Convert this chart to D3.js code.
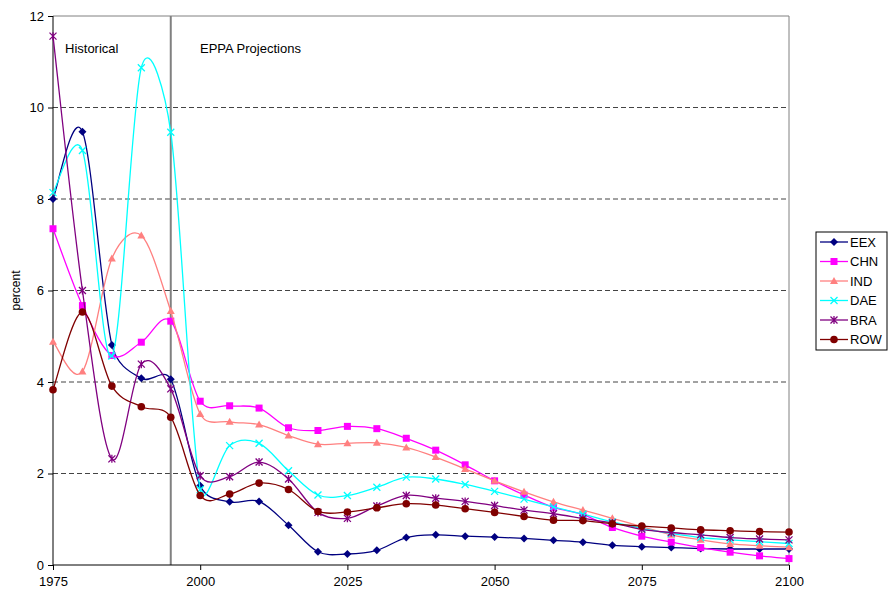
<!DOCTYPE html>
<html>
<head>
<meta charset="utf-8">
<script src="https://cdn.jsdelivr.net/npm/d3@7"></script>
<style>
  body { margin: 0; background: #fff; }
  svg { font-family: "Liberation Sans", Arial, sans-serif; }
</style>
</head>
<body>
<div class="chart"></div>
<script>
// data
var years = d3.range(1975, 2101, 5);
var seriesNames = ['EEX', 'CHN', 'IND', 'DAE', 'BRA', 'ROW'];
var eex = [8.0, 9.47, 4.81, 4.08, 4.06, 1.73, 1.38, 1.39, 0.87, 0.29, 0.24, 0.32, 0.60, 0.66, 0.63, 0.61, 0.58, 0.54, 0.50, 0.43, 0.40, 0.38, 0.36, 0.35, 0.35, 0.35];
var chn = [7.35, 5.67, 4.58, 4.87, 5.33, 3.58, 3.48, 3.43, 3.0, 2.94, 3.03, 2.98, 2.77, 2.51, 2.19, 1.84, 1.53, 1.26, 1.10, 0.82, 0.63, 0.50, 0.38, 0.28, 0.20, 0.14];
var ind = [4.88, 4.23, 6.70, 7.20, 5.55, 3.30, 3.13, 3.07, 2.83, 2.64, 2.66, 2.67, 2.57, 2.36, 2.10, 1.84, 1.60, 1.38, 1.20, 1.02, 0.84, 0.66, 0.55, 0.46, 0.42, 0.39];
var dae = [8.14, 9.06, 4.57, 10.87, 9.46, 1.65, 2.61, 2.66, 2.06, 1.53, 1.52, 1.70, 1.92, 1.88, 1.76, 1.61, 1.44, 1.27, 1.11, 0.94, 0.80, 0.69, 0.60, 0.55, 0.51, 0.47];
var bra = [11.56, 6.0, 2.32, 4.39, 3.85, 1.95, 1.93, 2.25, 1.88, 1.15, 1.02, 1.29, 1.52, 1.46, 1.39, 1.30, 1.20, 1.12, 1.02, 0.92, 0.78, 0.71, 0.66, 0.60, 0.57, 0.55];
var row = [3.83, 5.53, 3.91, 3.46, 3.23, 1.52, 1.55, 1.79, 1.65, 1.17, 1.16, 1.25, 1.34, 1.31, 1.23, 1.15, 1.06, 0.98, 0.97, 0.90, 0.85, 0.81, 0.77, 0.75, 0.73, 0.72];
var xTicks = [1975, 2000, 2025, 2050, 2075, 2100];
var yTicks = [0, 2, 4, 6, 8, 10, 12];
var dividerYear = 1995;

var seriesValues = [eex, chn, ind, dae, bra, row];
var seriesColors = ['#000080', '#ff00ff', '#ff8080', '#00ffff', '#800080', '#800000'];
var seriesShapes = ['diamond', 'square', 'triangle', 'cross', 'star', 'circle'];

// ======================================
// svg size and plot box
// ======================================
var chart = { width: 889, height: 595 };
var plot = { left: 53, right: 789, top: 16, bottom: 565 };

var svg = d3.select('.chart')
   .append('svg')
   .attr('width', chart.width)
   .attr('height', chart.height);

var x = d3.scaleLinear().domain([1975, 2100]).range([plot.left, plot.right]);
var y = d3.scaleLinear().domain([0, 12]).range([plot.bottom, plot.top]);

// gridlines
svg.append('g')
   .selectAll('line')
   .data(yTicks.filter(function(d){ return d > 0 && d < 12; }))
   .enter()
   .append('line')
      .attr('x1', plot.left)
      .attr('x2', plot.right)
      .attr('y1', function(d){ return y(d); })
      .attr('y2', function(d){ return y(d); })
      .attr('stroke', '#444')
      .attr('stroke-width', 1)
      .attr('stroke-dasharray', '5,3');

// top and right border
svg.append('path')
   .attr('d', 'M' + plot.left + ',' + y(12) + 'H' + plot.right + 'V' + plot.bottom)
   .attr('fill', 'none')
   .attr('stroke', '#808080')
   .attr('stroke-width', 1);

// 1995 divider
svg.append('line')
   .attr('x1', x(dividerYear)).attr('x2', x(dividerYear))
   .attr('y1', y(12)).attr('y2', plot.bottom)
   .attr('stroke', '#808080')
   .attr('stroke-width', 2);

svg.append('text')
   .attr('x', 65).attr('y', 53)
   .attr('font-size', '13px')
   .text('Historical');
svg.append('text')
   .attr('x', 200).attr('y', 53)
   .attr('font-size', '13px')
   .text('EPPA Projections');

// axes
var xAxis = svg.append('g')
   .attr('transform', 'translate(0,' + plot.bottom + ')')
   .call(d3.axisBottom(x).tickValues(xTicks).tickFormat(d3.format('d')).tickSize(5).tickPadding(4));
var yAxis = svg.append('g')
   .attr('transform', 'translate(' + plot.left + ',0)')
   .call(d3.axisLeft(y).tickValues(yTicks).tickSize(5).tickPadding(4));
[xAxis, yAxis].forEach(function(a){
   a.selectAll('text').attr('font-size', '13px').attr('font-family', '"Liberation Sans", Arial, sans-serif').attr('fill', '#000');
   a.selectAll('line, path').attr('stroke', '#000');
});
xAxis.selectAll('text').attr('dy', '0.9em');
yAxis.select('.domain').attr('d', 'M0,' + plot.top + 'V' + plot.bottom);
xAxis.select('.domain').attr('d', 'M' + plot.left + ',0H' + plot.right);

svg.append('text')
   .attr('transform', 'translate(20,' + ((plot.top + plot.bottom) / 2) + ') rotate(-90)')
   .attr('text-anchor', 'middle')
   .attr('font-size', '12px')
   .text('percent');

// ======================================
// markers
// ======================================
function drawMarker(g, shape, color, cx, cy) {
   if (shape === 'diamond') {
      g.append('path').attr('d', 'M' + cx + ',' + (cy - 4) + 'L' + (cx + 4) + ',' + cy + 'L' + cx + ',' + (cy + 4) + 'L' + (cx - 4) + ',' + cy + 'Z').attr('fill', color);
   } else if (shape === 'square') {
      g.append('rect').attr('x', cx - 3.5).attr('y', cy - 3.5).attr('width', 7).attr('height', 7).attr('fill', color);
   } else if (shape === 'triangle') {
      g.append('path').attr('d', 'M' + cx + ',' + (cy - 4) + 'L' + (cx + 4) + ',' + (cy + 3) + 'L' + (cx - 4) + ',' + (cy + 3) + 'Z').attr('fill', color);
   } else if (shape === 'circle') {
      g.append('circle').attr('cx', cx).attr('cy', cy).attr('r', 3.8).attr('fill', color);
   } else if (shape === 'cross') {
      g.append('path').attr('d', 'M' + (cx - 3.5) + ',' + (cy - 3.5) + 'L' + (cx + 3.5) + ',' + (cy + 3.5) + 'M' + (cx + 3.5) + ',' + (cy - 3.5) + 'L' + (cx - 3.5) + ',' + (cy + 3.5))
         .attr('stroke', color).attr('stroke-width', 1.3).attr('fill', 'none');
   } else if (shape === 'star') {
      g.append('path').attr('d', 'M' + (cx - 3.5) + ',' + (cy - 3.5) + 'L' + (cx + 3.5) + ',' + (cy + 3.5) + 'M' + (cx + 3.5) + ',' + (cy - 3.5) + 'L' + (cx - 3.5) + ',' + (cy + 3.5) + 'M' + cx + ',' + (cy - 4) + 'L' + cx + ',' + (cy + 4))
         .attr('stroke', color).attr('stroke-width', 1.3).attr('fill', 'none');
   }
}

// ======================================
// spreadsheet-style smoothing: bezier segments whose handles
// are shortened when the neighbouring chords are long
// ======================================
function curveSmoothSheet(context) {
   var pts;
   function dist(a, b){ return Math.hypot(b[0] - a[0], b[1] - a[1]); }
   return {
      areaStart: function(){}, areaEnd: function(){},
      lineStart: function(){ pts = []; },
      point: function(px, py){ pts.push([+px, +py]); },
      lineEnd: function(){
         var n = pts.length;
         if (!n) return;
         context.moveTo(pts[0][0], pts[0][1]);
         for (var i = 0; i < n - 1; i++) {
            var p0 = pts[Math.max(i - 1, 0)], p1 = pts[i], p2 = pts[i + 1], p3 = pts[Math.min(i + 2, n - 1)];
            var d12 = dist(p1, p2), d02 = dist(p0, p2), d13 = dist(p1, p3);
            var f = 1 / 6, g = 1 / 6;
            if (d02 / 6 >= d12 / 2 && d02 > 0) f = d12 / (2 * d02);
            if (d13 / 6 >= d12 / 2 && d13 > 0) g = d12 / (2 * d13);
            context.bezierCurveTo(
               p1[0] + f * (p2[0] - p0[0]), p1[1] + f * (p2[1] - p0[1]),
               p2[0] - g * (p3[0] - p1[0]), p2[1] - g * (p3[1] - p1[1]),
               p2[0], p2[1]);
         }
      }
   };
}

var line = d3.line()
   .x(function(d){ return x(d[0]); })
   .y(function(d){ return y(d[1]); })
   .curve(curveSmoothSheet);

seriesNames.forEach(function(name, i){
   var pts = years.map(function(yr, j){ return [yr, seriesValues[i][j]]; });
   var g = svg.append('g').attr('class', 'series-' + name);
   g.append('path')
      .datum(pts)
      .attr('d', line)
      .attr('fill', 'none')
      .attr('stroke', seriesColors[i])
      .attr('stroke-width', 1.3);
   pts.forEach(function(p){
      drawMarker(g, seriesShapes[i], seriesColors[i], x(p[0]), y(p[1]));
   });
});

// ======================================
// legend
// ======================================
var legend = svg.append('g').attr('transform', 'translate(816,232)');
legend.append('rect')
   .attr('width', 71).attr('height', 118)
   .attr('fill', '#fff').attr('stroke', '#000').attr('stroke-width', 1);
seriesNames.forEach(function(name, i){
   var ly = 10 + i * 19.5;
   legend.append('line')
      .attr('x1', 4).attr('x2', 32).attr('y1', ly).attr('y2', ly)
      .attr('stroke', seriesColors[i]).attr('stroke-width', 1.3);
   drawMarker(legend, seriesShapes[i], seriesColors[i], 18, ly);
   legend.append('text')
      .attr('x', 34).attr('y', ly + 4.5)
      .attr('font-size', '13px')
      .text(name);
});
</script>
</body>
</html>
